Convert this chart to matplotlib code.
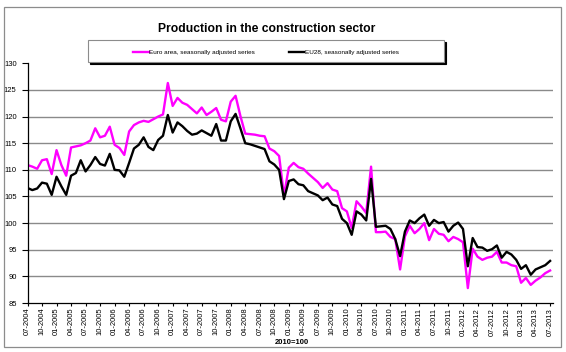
import matplotlib
matplotlib.use('Agg')
import matplotlib.pyplot as plt
from matplotlib.patches import Rectangle

plt.rcParams['font.family'] = ['Liberation Sans', 'DejaVu Sans']

# x labels, one every 3 months (07-2004 .. 07-2013)
tick_labels = ['07-2004', '10-2004', '01-2005', '04-2005', '07-2005', '10-2005',
               '01-2006', '04-2006', '07-2006', '10-2006', '01-2007', '04-2007',
               '07-2007', '10-2007', '01-2008', '04-2008', '07-2008', '10-2008',
               '01-2009', '04-2009', '07-2009', '10-2009', '01-2010', '04-2010',
               '07-2010', '10-2010', '01-2011', '04-2011', '07-2011', '10-2011',
               '01-2012', '04-2012', '07-2012', '10-2012', '01-2013', '04-2013',
               '07-2013']

# monthly index values, 2010=100
euro_area = [110.9, 110.6, 110.2, 111.8, 112.0, 109.2, 113.7, 110.9, 108.9, 114.2,
             114.4, 114.6, 115.0, 115.5, 117.8, 116.1, 116.4, 118.1, 114.7, 114.1,
             112.8, 117.2, 118.4, 118.9, 119.2, 119.0, 119.5, 120.0, 120.4, 126.3,
             122.0, 123.5, 122.6, 122.2, 121.4, 120.6, 121.7, 120.3, 120.9, 121.6,
             119.4, 119.1, 122.8, 123.9, 120.1, 116.8, 116.7, 116.6, 116.4, 116.3,
             114.0, 113.5, 112.6, 105.2, 110.4, 111.3, 110.5, 110.2, 109.3, 108.5,
             107.7, 106.6, 107.5, 106.3, 106.0, 102.8, 102.2, 99.1, 104.1, 103.1,
             101.9, 110.6, 98.3, 98.3, 98.4, 97.4, 97.0, 91.3, 97.5, 99.5,
             98.1, 98.9, 100.0, 96.8, 98.9, 98.0, 97.8, 96.6, 97.4, 97.0,
             96.4, 87.8, 95.2, 93.7, 93.1, 93.5, 93.7, 94.6, 92.6, 92.6,
             92.1, 91.9, 88.8, 89.7, 88.4, 89.2, 89.8, 90.6, 91.1]

eu28 = [106.6, 106.2, 106.5, 107.6, 107.4, 105.3, 108.7, 106.9, 105.3, 108.9,
        109.4, 111.8, 109.7, 110.9, 112.4, 111.1, 110.8, 113.0, 110.0, 109.9,
        108.7, 111.3, 114.0, 114.7, 116.1, 114.3, 113.7, 115.6, 116.4, 120.3,
        117.0, 118.9, 118.2, 117.3, 116.6, 116.8, 117.4, 116.9, 116.4, 118.6,
        115.5, 115.5, 119.1, 120.5, 117.8, 115.0, 114.8, 114.5, 114.2, 113.9,
        111.6, 111.0, 110.0, 104.5, 107.9, 108.2, 107.3, 107.1, 106.0, 105.6,
        105.2, 104.3, 104.8, 103.5, 103.2, 100.8, 100.0, 97.8, 102.2, 101.6,
        100.5, 108.3, 99.3, 99.4, 99.5, 98.9, 97.0, 93.8, 98.4, 100.5,
        100.0, 100.9, 101.6, 99.5, 100.6, 100.0, 100.2, 98.4, 99.5, 100.1,
        98.9, 91.9, 97.2, 95.5, 95.4, 94.8, 95.1, 95.8, 93.5, 94.6,
        94.1, 93.1, 91.4, 92.1, 90.3, 91.3, 91.7, 92.1, 92.9]

W, H = 566, 352
fig = plt.figure(figsize=(W / 100, H / 100), dpi=100)

# outer chart border
fig.patches.append(Rectangle((4 / W, 1 - 347 / H), 557 / W, 340 / H,
                             transform=fig.transFigure, fill=False,
                             edgecolor='#8c8c8c', lw=0.9))

ax = fig.add_axes([27.5 / W, 1 - 303 / H, 525.5 / W, 239.7 / H])

months = list(range(len(euro_area)))
for v in range(90, 130, 5):
    ax.axhline(v, color='#8a8a8a', lw=1.0, zorder=0)

l1, = ax.plot(months, euro_area, color='#ff00ff', lw=1.7, zorder=2,
              label='Euro area, seasonally adjusted series')
l2, = ax.plot(months, eu28, color='black', lw=1.7, zorder=3,
              label='EU28, seasonally adjusted series')

ax.set_xlim(0, 108.6)
ax.set_ylim(85, 130)
ax.set_yticks(range(85, 131, 5))
ax.set_xticks(range(0, len(euro_area), 3))
ax.set_xticklabels(tick_labels, rotation=90)
ax.tick_params(axis='y', labelsize=5.5, length=4.3, width=0.8, pad=3.5)
ax.tick_params(axis='x', labelsize=5.5, length=2, width=0.8, pad=1.5)
for s in ['top', 'right']:
    ax.spines[s].set_visible(False)
for s in ['left', 'bottom']:
    ax.spines[s].set_linewidth(0.9)

fig.text(267 / W, 1 - 29 / H, 'Production in the construction sector',
         ha='center', va='center', fontsize=8.7, fontweight='bold')
fig.text(292 / W, 1 - 343 / H, '2010=100', ha='center', va='center',
         fontsize=5.5, fontweight='bold')

# legend box with shadow
fig.patches.append(Rectangle((90 / W, 1 - 64 / H), 356 / W, 22 / H,
                             transform=fig.transFigure, facecolor='black',
                             edgecolor='black', lw=0.8, zorder=1))
fig.patches.append(Rectangle((88 / W, 1 - 62 / H), 356 / W, 22 / H,
                             transform=fig.transFigure, facecolor='white',
                             edgecolor='#8c8c8c', lw=0.8, zorder=2))
fig.legend([l1, l2], [l1.get_label(), l2.get_label()], loc='center',
           bbox_to_anchor=(266 / W, 1 - 52 / H), ncol=2, frameon=False,
           fontsize=4.6, handlelength=2.4, handletextpad=0.05,
           columnspacing=5.3)

fig.savefig('out.png', dpi=100)
